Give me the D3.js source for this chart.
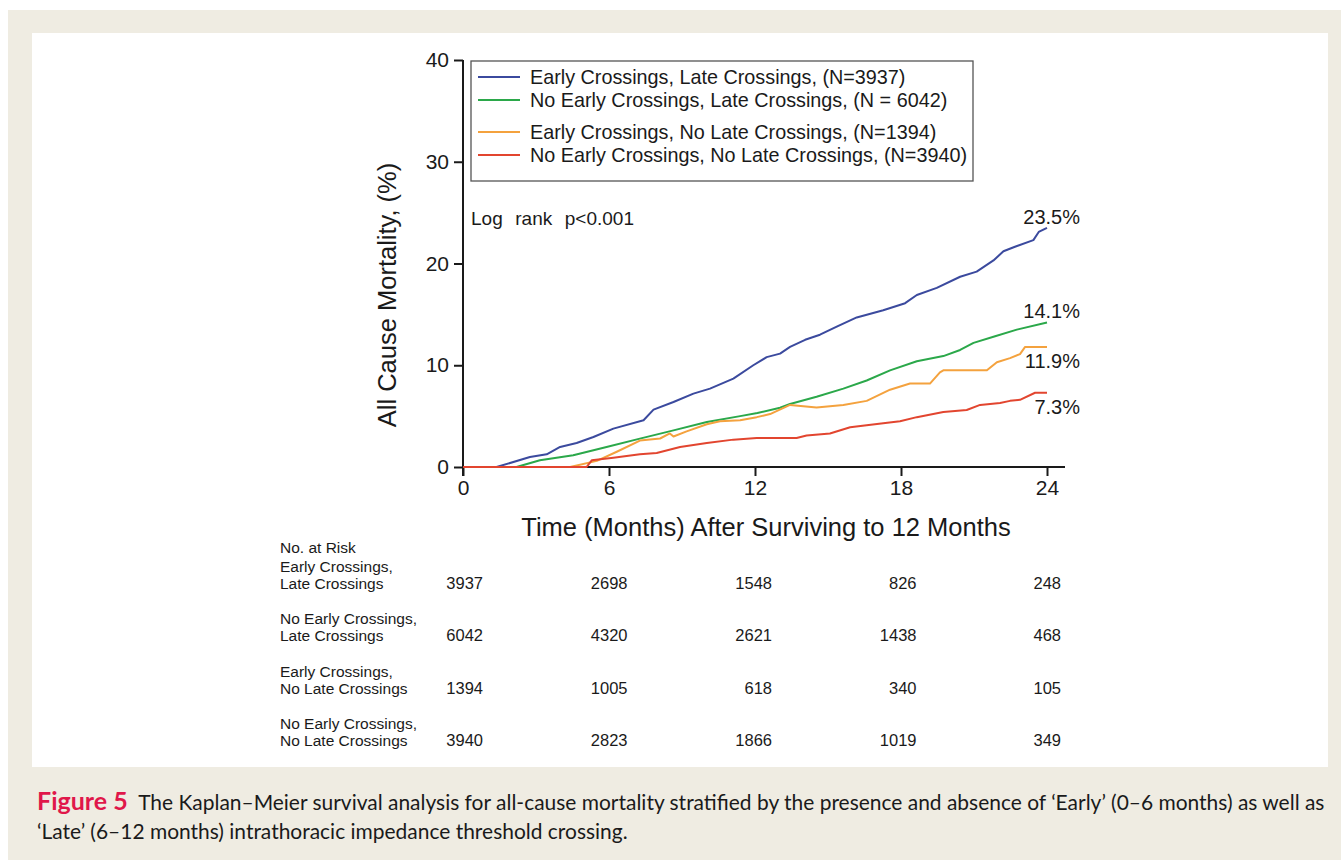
<!DOCTYPE html>
<html>
<head>
<meta charset="utf-8">
<script src="https://cdn.jsdelivr.net/npm/d3@7"></script>
<style>
  body { margin: 0; background: #fff; }
  text { font-family: "Liberation Sans", Arial, sans-serif; fill: #1a1a1a; }
  text.caption { font-family: Lato, "Open Sans", sans-serif; }
</style>
</head>
<body>
<div class="chart"></div>
<script>
// ---- data ----
const monthTicks = [0, 6, 12, 18, 24];
const pctTicks = [0, 10, 20, 30, 40];

const legendLabels = [
  'Early Crossings, Late Crossings, (N=3937)',
  'No Early Crossings, Late Crossings, (N = 6042)',
  'Early Crossings, No Late Crossings, (N=1394)',
  'No Early Crossings, No Late Crossings, (N=3940)',
];
const endLabels = ['23.5%', '14.1%', '11.9%', '7.3%'];

// [months, cumulative mortality %]
const earlyLate = [
  [0, 0], [1.38, 0], [2.75, 0.98], [3.44, 1.25], [3.99, 1.97], [4.67, 2.36],
  [5.36, 2.95], [6.18, 3.77], [7.42, 4.59], [7.83, 5.64], [8.65, 6.39],
  [9.47, 7.21], [10.15, 7.7], [11.11, 8.69], [11.93, 10.0], [12.48, 10.8],
  [13.03, 11.14], [13.44, 11.8], [14.06, 12.5], [14.67, 13.0], [15.36, 13.8],
  [16.18, 14.7], [17.27, 15.4], [18.17, 16.1], [18.65, 16.9], [19.47, 17.6],
  [20.43, 18.7], [21.11, 19.2], [21.8, 20.3], [22.21, 21.2], [22.63, 21.6],
  [23.44, 22.3], [23.66, 23.1], [24, 23.5],
];
const noEarlyLate = [
  [0, 0], [2.2, 0], [3.16, 0.66], [4.53, 1.15], [5.9, 1.97], [7.27, 2.79],
  [8.65, 3.6], [10.02, 4.42], [11.39, 5.0], [12.1, 5.3], [13.03, 5.83],
  [13.44, 6.2], [14.53, 6.9], [15.63, 7.7], [16.59, 8.5], [17.55, 9.5],
  [18.65, 10.4], [19.74, 10.9], [20.43, 11.5], [20.98, 12.2], [21.8, 12.8],
  [22.76, 13.5], [24, 14.2],
];
const earlyNoLate = [
  [0, 0], [4.4, 0], [5.5, 0.6], [6.32, 1.5], [7.27, 2.6], [8.1, 2.8],
  [8.5, 3.3], [8.65, 3.0], [9.19, 3.5], [10.02, 4.2], [10.56, 4.5],
  [11.39, 4.6], [12.07, 4.9], [12.62, 5.2], [13.44, 6.1], [14.53, 5.85],
  [15.63, 6.1], [16.59, 6.5], [17.55, 7.6], [18.37, 8.2], [19.19, 8.2],
  [19.6, 9.3], [19.74, 9.5], [21.53, 9.5], [21.94, 10.3], [22.48, 10.7],
  [22.89, 11.1], [23.1, 11.8], [24, 11.8],
];
const noEarlyNoLate = [
  [0, 0], [5.08, 0], [5.29, 0.66], [6.18, 0.92], [7.27, 1.25], [7.96, 1.38],
  [8.92, 1.97], [10.02, 2.36], [11.11, 2.69], [12.07, 2.85], [13.03, 2.85],
  [13.71, 2.85], [14.12, 3.1], [15.08, 3.3], [15.91, 3.9], [17.27, 4.3],
  [17.96, 4.5], [18.65, 4.9], [19.74, 5.4], [20.7, 5.6], [21.25, 6.1],
  [22.07, 6.3], [22.48, 6.5], [22.89, 6.6], [23.51, 7.3], [24, 7.3],
];

const riskLabels = [
  ['Early Crossings,', 'Late Crossings'],
  ['No Early Crossings,', 'Late Crossings'],
  ['Early Crossings,', 'No Late Crossings'],
  ['No Early Crossings,', 'No Late Crossings'],
];
const riskEarlyLate = [3937, 2698, 1548, 826, 248];
const riskNoEarlyLate = [6042, 4320, 2621, 1438, 468];
const riskEarlyNoLate = [1394, 1005, 618, 340, 105];
const riskNoEarlyNoLate = [3940, 2823, 1866, 1019, 349];

// ---- styling ----
const COLORS = ['#3b4a9e', '#2ba84a', '#f4a23e', '#e2452f'];
const END_DY = [-4, -5, 21, 21];
const series = [earlyLate, noEarlyLate, earlyNoLate, noEarlyNoLate];
const risks = [riskEarlyLate, riskNoEarlyLate, riskEarlyNoLate, riskNoEarlyNoLate];

const width = 1341;
const height = 860;

const svg = d3
  .select('.chart')
  .append('svg')
  .attr('width', width)
  .attr('height', height);

// page frame
svg.append('rect').attr('x', 8).attr('y', 10).attr('width', width - 8).attr('height', height - 10).attr('fill', '#efece2');
svg.append('rect').attr('x', 32).attr('y', 33).attr('width', 1296).attr('height', 734).attr('fill', '#fff');

const x = d3.scaleLinear().domain([0, 24]).range([463, 1047]);
const y = d3.scaleLinear().domain([0, 40]).range([467, 60]);

// axes
const xAxis = svg
  .append('g')
  .attr('transform', `translate(0, ${y(0)})`)
  .call(d3.axisBottom(x).tickValues(monthTicks).tickSize(9).tickPadding(4).tickSizeOuter(0));
xAxis.select('.domain').attr('d', `M${x(0)},0H1065`);

const yAxis = svg
  .append('g')
  .attr('transform', `translate(${x(0)}, 0)`)
  .call(d3.axisLeft(y).tickValues(pctTicks).tickSize(9).tickPadding(5).tickSizeOuter(0));
yAxis.select('.domain').attr('d', `M0,${y(40)}V${y(0) + 9}`);

svg.selectAll('.tick text').style('font-family', '"Liberation Sans", Arial, sans-serif').style('font-size', '21px').attr('fill', '#1a1a1a');
svg.selectAll('.domain, .tick line').attr('stroke', '#1a1a1a').attr('stroke-width', 2);

svg
  .append('text')
  .attr('x', 766)
  .attr('y', 536)
  .attr('text-anchor', 'middle')
  .style('font-size', '25.5px')
  .text('Time (Months) After Surviving to 12 Months');

svg
  .append('text')
  .attr('transform', `translate(396, 295) rotate(-90)`)
  .attr('text-anchor', 'middle')
  .style('font-size', '25.5px')
  .text('All Cause Mortality, (%)');

// curves
const line = d3
  .line()
  .x(d => x(d[0]))
  .y(d => y(d[1]));

svg
  .selectAll('.km')
  .data(series)
  .enter()
  .append('path')
  .attr('class', 'km')
  .attr('d', line)
  .attr('fill', 'none')
  .attr('stroke', (d, i) => COLORS[i])
  .attr('stroke-width', 2)
  .attr('stroke-linejoin', 'round');

svg
  .selectAll('.end-label')
  .data(series)
  .enter()
  .append('text')
  .attr('class', 'end-label')
  .attr('x', 1080)
  .attr('y', (d, i) => y(d[d.length - 1][1]) + END_DY[i])
  .attr('text-anchor', 'end')
  .style('font-size', '20px')
  .text((d, i) => endLabels[i]);

svg
  .append('text')
  .attr('x', 471)
  .attr('y', 225)
  .style('font-size', '19px')
  .style('white-space', 'pre')
  .style('word-spacing', '1px')
  .text('Log  rank  p<0.001');

// legend
svg
  .append('rect')
  .attr('x', 471)
  .attr('y', 61)
  .attr('width', 502)
  .attr('height', 120)
  .attr('fill', '#fff')
  .attr('stroke', '#555')
  .attr('stroke-width', 1.3);

const legendY = [77, 100, 132, 155];
const legend = svg
  .selectAll('.legend-item')
  .data(legendLabels)
  .enter()
  .append('g')
  .attr('class', 'legend-item')
  .attr('transform', (d, i) => `translate(478, ${legendY[i]})`);
legend
  .append('line')
  .attr('x2', 42)
  .attr('stroke', (d, i) => COLORS[i])
  .attr('stroke-width', 2);
legend
  .append('text')
  .attr('x', 52)
  .attr('dy', '0.35em')
  .style('font-size', '19.8px')
  .text(d => d);

// number at risk table
const riskX = d3.scaleLinear().domain([0, 24]).range([483, 1061]);
const table = svg.append('g').style('font-size', '15.5px');
table.append('text').attr('x', 280).attr('y', 553).text('No. at Risk');
const rowY = [589, 641, 694, 746];
riskLabels.forEach((lab, i) => {
  table.append('text').attr('x', 280).attr('y', rowY[i] - 17).text(lab[0]);
  table.append('text').attr('x', 280).attr('y', rowY[i]).text(lab[1]);
  table
    .selectAll(null)
    .data(risks[i])
    .enter()
    .append('text')
    .attr('x', (d, j) => riskX(monthTicks[j]))
    .attr('y', rowY[i])
    .attr('text-anchor', 'end')
    .style('font-size', '16.5px')
    .text(d => d);
});

// caption
const cap1 = svg
  .append('text')
  .attr('class', 'caption')
  .attr('x', 37)
  .attr('y', 810)
  .style('font-size', '21px')
  .attr('fill', '#333');
cap1
  .append('tspan')
  .attr('font-weight', 'bold')
  .attr('fill', '#e0174a')
  .style('font-size', '25px')
  .text('Figure 5');
const capRest = cap1
  .append('tspan')
  .text('\u2002The Kaplan\u2013Meier survival analysis for all-cause mortality stratified by the presence and absence of \u2018Early\u2019 (0\u20136 months) as well as');
const cap2 = svg
  .append('text')
  .attr('class', 'caption')
  .attr('x', 37)
  .attr('y', 839)
  .style('font-size', '21px')
  .attr('fill', '#333')
  .text('\u2018Late\u2019 (6\u201312 months) intrathoracic impedance threshold crossing.');

// fit caption width to the panel like the source layout
const capW = cap1.node().getComputedTextLength();
const restW = capRest.node().getComputedTextLength();
const capSize = 21 * (restW + 1288 - capW) / restW;
capRest.style('font-size', `${capSize}px`);
cap2.style('font-size', `${capSize}px`);
</script>
</body>
</html>
